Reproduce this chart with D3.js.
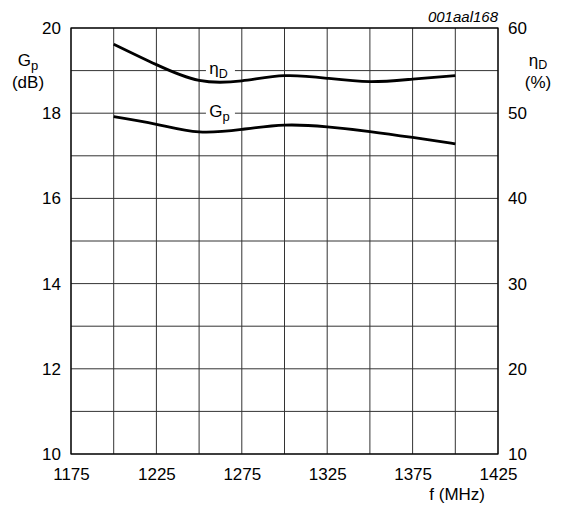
<!DOCTYPE html>
<html>
<head>
<meta charset="utf-8">
<script src="https://cdn.jsdelivr.net/npm/d3@7"></script>
<style>
  body { margin: 0; background: #fff; }
  svg text { font-family: "Liberation Sans", Arial, sans-serif; fill: #000; }
</style>
</head>
<body>
<svg></svg>
<script>
// frequency points (MHz)
var freq = [1200, 1225, 1250, 1275, 1300, 1325, 1350, 1375, 1400];
// power gain Gp (dB), left axis
var gain = [17.92, 17.74, 17.56, 17.62, 17.72, 17.68, 17.57, 17.43, 17.28];
// drain efficiency etaD (%), right axis
var eff = [58.1, 55.7, 53.85, 53.8, 54.4, 54.1, 53.7, 54.0, 54.4];

var xTicks = [1175, 1225, 1275, 1325, 1375, 1425];
var leftTicks = [10, 12, 14, 16, 18, 20];
var rightTicks = [10, 20, 30, 40, 50, 60];

var WIDTH = 563;
var HEIGHT = 509;
var L = 71, T = 28, R = 498, B = 454;

var svg = d3.select('svg')
  .attr('width', WIDTH)
  .attr('height', HEIGHT);

var xScale = d3.scaleLinear().domain([1175, 1425]).range([L, R]);
var yLeft = d3.scaleLinear().domain([10, 20]).range([B, T]);
var yRight = d3.scaleLinear().domain([10, 60]).range([B, T]);

// grid
var grid = svg.append('g').attr('stroke', '#333').attr('stroke-width', 1);
grid.selectAll('.vx')
  .data(d3.range(1175, 1426, 25))
  .enter().append('line')
  .attr('x1', function(d){ return xScale(d); })
  .attr('x2', function(d){ return xScale(d); })
  .attr('y1', T).attr('y2', B);
grid.selectAll('.hy')
  .data(d3.range(10, 20.5, 1))
  .enter().append('line')
  .attr('y1', function(d){ return yLeft(d); })
  .attr('y2', function(d){ return yLeft(d); })
  .attr('x1', L).attr('x2', R);

svg.append('rect')
  .attr('x', L).attr('y', T)
  .attr('width', R - L).attr('height', B - T)
  .attr('fill', 'none').attr('stroke', '#000').attr('stroke-width', 1.2);

// axes (labels only)
function clean(g){
  g.select('.domain').remove();
  g.selectAll('.tick line').remove();
  g.selectAll('text').style('font-size', '17px').attr('font-family', null);
}
svg.append('g')
  .attr('transform', 'translate(0,' + B + ')')
  .call(d3.axisBottom(xScale).tickValues(xTicks).tickSize(0).tickPadding(14).tickFormat(d3.format('d')))
  .call(clean);
svg.append('g')
  .attr('transform', 'translate(' + L + ',0)')
  .call(d3.axisLeft(yLeft).tickValues(leftTicks).tickSize(0).tickPadding(10))
  .call(clean);
svg.append('g')
  .attr('transform', 'translate(' + R + ',0)')
  .call(d3.axisRight(yRight).tickValues(rightTicks).tickSize(0).tickPadding(10))
  .call(clean);

// axis titles
var gp = svg.append('text').attr('x', 28).attr('y', 65.5).attr('text-anchor', 'middle').style('font-size', '17px');
gp.append('tspan').text('G');
gp.append('tspan').attr('dy', 4).style('font-size', '13px').text('p');
svg.append('text').attr('x', 28).attr('y', 88).attr('text-anchor', 'middle').style('font-size', '17px').text('(dB)');

var ed = svg.append('text').attr('x', 538).attr('y', 65.5).attr('text-anchor', 'middle').style('font-size', '17px');
ed.append('tspan').text('η');
ed.append('tspan').attr('dy', 3.5).style('font-size', '12.5px').text('D');
svg.append('text').attr('x', 538).attr('y', 88).attr('text-anchor', 'middle').style('font-size', '17px').text('(%)');

svg.append('text').attr('x', 485).attr('y', 499.5).attr('text-anchor', 'end').style('font-size', '17px').text('f (MHz)');
svg.append('text').attr('x', 498).attr('y', 21.5).attr('text-anchor', 'end')
  .style('font-size', '15px').style('font-style', 'italic').text('001aal168');

// curve labels with white backing over the grid
function curveLabel(y, main, sub, dy, subSize){
  svg.append('rect')
    .attr('x', xScale(1254)).attr('y', y - 4)
    .attr('width', 29).attr('height', 8)
    .attr('fill', '#fff');
  var t = svg.append('text').attr('x', xScale(1256)).attr('y', y + 3.5).style('font-size', '17px');
  t.append('tspan').text(main);
  t.append('tspan').attr('dy', dy).style('font-size', subSize).text(sub);
}
curveLabel(yLeft(19), 'η', 'D', 3.5, '12.5px');
curveLabel(yLeft(18), 'G', 'p', 4, '13px');

// the two curves
var gainLine = d3.line()
  .x(function(d, i){ return xScale(freq[i]); })
  .y(function(d){ return yLeft(d); })
  .curve(d3.curveNatural);
var effLine = d3.line()
  .x(function(d, i){ return xScale(freq[i]); })
  .y(function(d){ return yRight(d); })
  .curve(d3.curveNatural);

svg.append('path').datum(eff)
  .attr('d', effLine)
  .attr('fill', 'none').attr('stroke', '#000').attr('stroke-width', 2.8);
svg.append('path').datum(gain)
  .attr('d', gainLine)
  .attr('fill', 'none').attr('stroke', '#000').attr('stroke-width', 2.8);
</script>
</body>
</html>
